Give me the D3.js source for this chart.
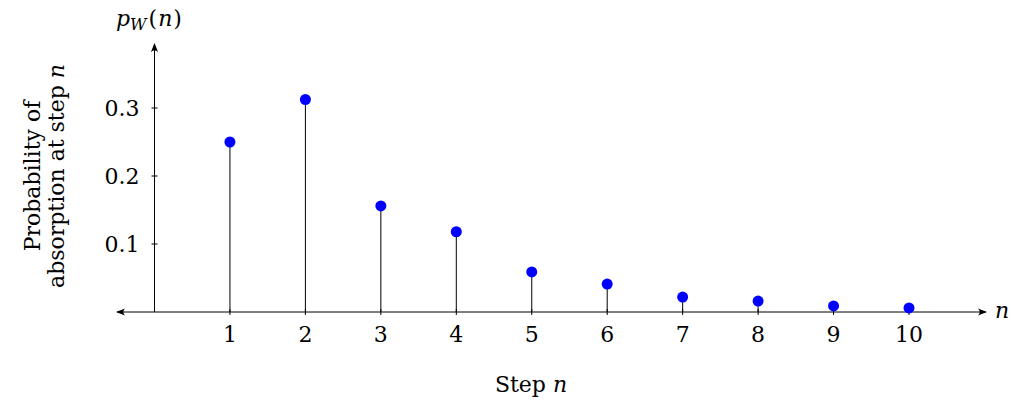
<!DOCTYPE html>
<html>
<head>
<meta charset="utf-8">
<script src="https://cdn.jsdelivr.net/npm/d3@7"></script>
<style>
  body { margin: 0; background: #fff; }
  text { font-family: "DejaVu Serif", "Liberation Serif", serif; }
</style>
</head>
<body>
<div id="chart"></div>
<script>
  // Step numbers and the probability of absorption at each step
  var steps = [1, 2, 3, 4, 5, 6, 7, 8, 9, 10];
  var probs = [0.25, 0.3125, 0.156, 0.118, 0.059, 0.041, 0.022, 0.016, 0.009, 0.006];
  var yTicks = [0.1, 0.2, 0.3];
  var xTicks = [1, 2, 3, 4, 5, 6, 7, 8, 9, 10];

  var width = 1013, height = 403;

  var svg = d3.select("#chart").append("svg")
    .attr("width", width)
    .attr("height", height);

  // Scales: x = 0 sits on the y axis, y = 0 on the x axis
  var x = d3.scaleLinear().domain([0, 10]).range([154.5, 909]);
  var y = d3.scaleLinear().domain([0, 0.3]).range([312, 108]);

  // Arrow heads
  var defs = svg.append("defs");
  defs.append("marker")
    .attr("id", "arrow")
    .attr("viewBox", "0 0 10 10")
    .attr("refX", 9).attr("refY", 5)
    .attr("markerWidth", 9).attr("markerHeight", 9)
    .attr("markerUnits", "userSpaceOnUse")
    .attr("orient", "auto-start-reverse")
    .append("path")
    .attr("d", "M0,1 Q4,5 0,9 L10,5 Z")
    .attr("fill", "black");

  // Stems
  svg.append("g").selectAll("line")
    .data(steps)
    .join("line")
    .attr("x1", d => x(d)).attr("x2", d => x(d))
    .attr("y1", y(0))
    .attr("y2", (d, i) => y(probs[i]))
    .attr("stroke", "black")
    .attr("stroke-width", 1);

  // X axis (arrows both ways)
  svg.append("line")
    .attr("x1", 117).attr("x2", 986)
    .attr("y1", y(0)).attr("y2", y(0))
    .attr("stroke", "black").attr("stroke-width", 1)
    .attr("marker-start", "url(#arrow)")
    .attr("marker-end", "url(#arrow)");

  // Y axis
  svg.append("line")
    .attr("x1", x(0)).attr("x2", x(0))
    .attr("y1", y(0)).attr("y2", 44)
    .attr("stroke", "black").attr("stroke-width", 1)
    .attr("marker-end", "url(#arrow)");

  // X ticks and labels
  var xg = svg.append("g");
  xg.selectAll("line")
    .data(xTicks)
    .join("line")
    .attr("x1", d => x(d)).attr("x2", d => x(d))
    .attr("y1", y(0) - 3).attr("y2", y(0) + 3)
    .attr("stroke", "black");
  xg.selectAll("text")
    .data(xTicks)
    .join("text")
    .attr("x", d => x(d))
    .attr("y", y(0) + 30)
    .attr("text-anchor", "middle")
    .attr("font-size", 22)
    .text(d => d);

  // Y ticks and labels
  var yg = svg.append("g");
  yg.selectAll("line")
    .data(yTicks)
    .join("line")
    .attr("x1", x(0) - 3).attr("x2", x(0) + 3)
    .attr("y1", d => y(d)).attr("y2", d => y(d))
    .attr("stroke", "black");
  yg.selectAll("text")
    .data(yTicks)
    .join("text")
    .attr("x", x(0) - 15)
    .attr("y", d => y(d) + 8)
    .attr("text-anchor", "end")
    .attr("font-size", 22)
    .text(d => d.toFixed(1));

  // Dots
  svg.append("g").selectAll("circle")
    .data(steps)
    .join("circle")
    .attr("cx", d => x(d))
    .attr("cy", (d, i) => y(probs[i]))
    .attr("r", 5.5)
    .attr("fill", "#0000ff");

  // Axis labels
  svg.append("text")
    .attr("x", 995).attr("y", y(0) + 6)
    .attr("font-size", 22)
    .attr("font-style", "italic")
    .text("n");

  var pLabel = svg.append("text")
    .attr("x", 116).attr("y", 26)
    .attr("font-size", 22);
  pLabel.append("tspan").attr("font-style", "italic").text("p");
  pLabel.append("tspan").attr("font-style", "italic").attr("font-size", 16).attr("dy", 4).text("W");
  pLabel.append("tspan").attr("dy", -4).attr("dx", 2).text("(");
  pLabel.append("tspan").attr("font-style", "italic").attr("dx", 1).text("n");
  pLabel.append("tspan").attr("dx", 1).text(")");

  var stepLabel = svg.append("text")
    .attr("x", 531).attr("y", 392)
    .attr("text-anchor", "middle")
    .attr("font-size", 22);
  stepLabel.append("tspan").text("Step ");
  stepLabel.append("tspan").attr("font-style", "italic").text("n");

  var yLab = svg.append("g")
    .attr("transform", "translate(0,176) rotate(-90)");
  yLab.append("text")
    .attr("x", 0).attr("y", 40)
    .attr("text-anchor", "middle")
    .attr("font-size", 22)
    .text("Probability of");
  var yLab2 = yLab.append("text")
    .attr("x", 0).attr("y", 64)
    .attr("text-anchor", "middle")
    .attr("font-size", 22);
  yLab2.append("tspan").text("absorption at step ");
  yLab2.append("tspan").attr("font-style", "italic").text("n");
</script>
</body>
</html>
